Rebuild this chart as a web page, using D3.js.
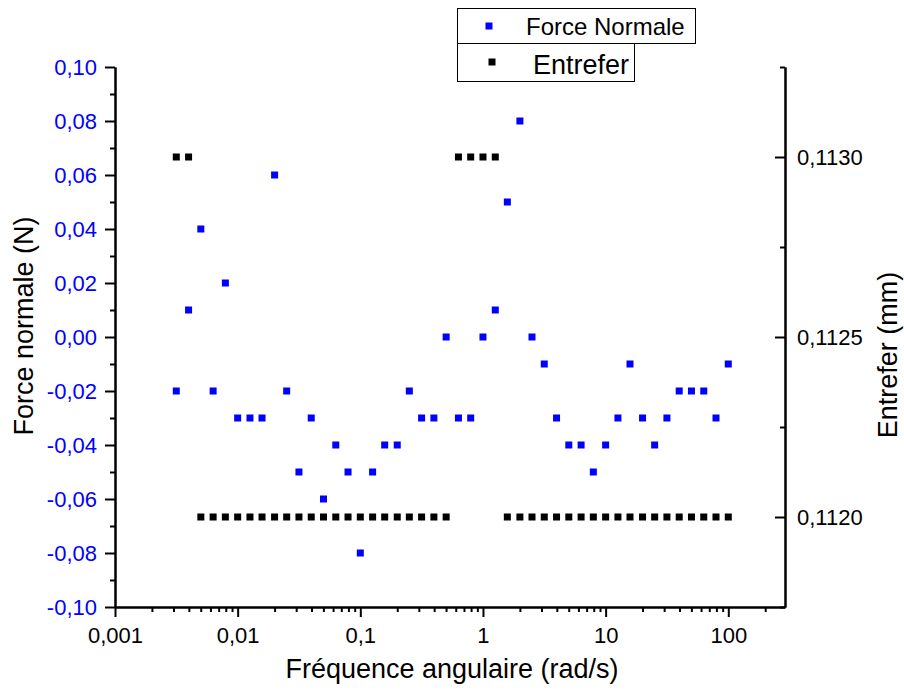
<!DOCTYPE html>
<html>
<head>
<meta charset="utf-8">
<script src="https://cdn.jsdelivr.net/npm/d3@7"></script>
<style>
  body { margin: 0; background: #fff; }
  text { font-family: Arial, "Liberation Sans", sans-serif; }
</style>
</head>
<body>
<div id="chart"></div>
<script>
// angular frequency (rad/s)
const frequence = [
  0.00316, 0.00398, 0.00501, 0.00631, 0.00794,
  0.01, 0.0126, 0.0158, 0.02, 0.0251, 0.0316, 0.0398, 0.0501, 0.0631, 0.0794,
  0.1, 0.126, 0.158, 0.2, 0.251, 0.316, 0.398, 0.501, 0.631, 0.794,
  1, 1.26, 1.58, 2, 2.51, 3.16, 3.98, 5.01, 6.31, 7.94,
  10, 12.6, 15.8, 20, 25.1, 31.6, 39.8, 50.1, 63.1, 79.4, 100
]
// normal force (N)
const forceNormale = [
  -0.02, 0.01, 0.04, -0.02, 0.02,
  -0.03, -0.03, -0.03, 0.06, -0.02, -0.05, -0.03, -0.06, -0.04, -0.05,
  -0.08, -0.05, -0.04, -0.04, -0.02, -0.03, -0.03, 0.00, -0.03, -0.03,
  0.00, 0.01, 0.05, 0.08, 0.00, -0.01, -0.03, -0.04, -0.04, -0.05,
  -0.04, -0.03, -0.01, -0.03, -0.04, -0.03, -0.02, -0.02, -0.02, -0.03, -0.01
]
// gap (mm)
const entrefer = [
  0.1130, 0.1130, 0.1120, 0.1120, 0.1120,
  0.1120, 0.1120, 0.1120, 0.1120, 0.1120, 0.1120, 0.1120, 0.1120, 0.1120, 0.1120,
  0.1120, 0.1120, 0.1120, 0.1120, 0.1120, 0.1120, 0.1120, 0.1120, 0.1130, 0.1130,
  0.1130, 0.1130, 0.1120, 0.1120, 0.1120, 0.1120, 0.1120, 0.1120, 0.1120, 0.1120,
  0.1120, 0.1120, 0.1120, 0.1120, 0.1120, 0.1120, 0.1120, 0.1120, 0.1120, 0.1120, 0.1120
]
const xTicks = [0.001, 0.01, 0.1, 1, 10, 100]
const yLeftTicks = [-0.10, -0.08, -0.06, -0.04, -0.02, 0.00, 0.02, 0.04, 0.06, 0.08, 0.10]
const yRightTicks = [0.1120, 0.1125, 0.1130]
const seriesNames = ["Force Normale", "Entrefer"]

let dimensions = {
  width: 904,
  height: 695,
  margin: { top: 67, bottom: 88, left: 115, right: 119 }
}
dimensions.ctrWidth = dimensions.width - dimensions.margin.left - dimensions.margin.right
dimensions.ctrHeight = dimensions.height - dimensions.margin.top - dimensions.margin.bottom

// french decimals, plain hyphen for the minus sign
const fr = d3.formatLocale({ decimal: ",", thousands: ".", grouping: [3], currency: ["", ""], minus: "-" })

const svg = d3.select('#chart')
  .append("svg")
  .attr("width", dimensions.width)
  .attr("height", dimensions.height)

const ctr = svg.append("g")
  .attr("transform", `translate(${dimensions.margin.left}, ${dimensions.margin.top})`)

const xScale = d3.scaleLog()
  .domain([0.001, 290])
  .range([0, dimensions.ctrWidth])
const yLeft = d3.scaleLinear()
  .domain([-0.10, 0.10])
  .range([dimensions.ctrHeight, 0])
const yRight = d3.scaleLinear()
  .domain([0.11175, 0.11325])
  .range([dimensions.ctrHeight, 0])

function styleAxis(g, color) {
  g.select(".domain").attr("stroke", "#000").attr("stroke-width", 2)
  g.selectAll(".tick line").attr("stroke", "#000").attr("stroke-width", 2)
  g.selectAll(".tick text").attr("fill", color).style("font-size", "22px")
}

// bottom axis: minor then major
const xMinor = xScale.ticks().filter(d => !xTicks.some(t => Math.abs(t - d) / t < 1e-9))
ctr.append("g")
  .attr("transform", `translate(0, ${dimensions.ctrHeight})`)
  .call(d3.axisBottom(xScale).tickValues(xMinor).tickSize(5).tickSizeOuter(0).tickFormat(""))
  .call(g => styleAxis(g, "#000"))
ctr.append("g")
  .attr("transform", `translate(0, ${dimensions.ctrHeight})`)
  .call(d3.axisBottom(xScale).tickValues(xTicks).tickSize(10).tickPadding(10).tickSizeOuter(0)
    .tickFormat(fr.format("~g")))
  .call(g => styleAxis(g, "#000"))

// left axis
const yLeftMinor = d3.range(-0.09, 0.1, 0.02)
ctr.append("g")
  .call(d3.axisLeft(yLeft).tickValues(yLeftMinor).tickSize(5).tickSizeOuter(0).tickFormat(""))
  .call(g => styleAxis(g, "#000"))
ctr.append("g")
  .call(d3.axisLeft(yLeft).tickValues(yLeftTicks).tickSize(10).tickPadding(8).tickSizeOuter(0)
    .tickFormat(fr.format(".2f")))
  .call(g => styleAxis(g, "#0000ff"))

// right axis, ticks pointing inward
const yRightMinor = [0.11175, 0.11225, 0.11275, 0.11325]
ctr.append("g")
  .attr("transform", `translate(${dimensions.ctrWidth}, 0)`)
  .call(d3.axisRight(yRight).tickValues(yRightMinor).tickSize(-5).tickSizeOuter(0).tickFormat(""))
  .call(g => styleAxis(g, "#000"))
ctr.append("g")
  .attr("transform", `translate(${dimensions.ctrWidth}, 0)`)
  .call(d3.axisRight(yRight).tickValues(yRightTicks).tickSize(-10).tickPadding(12).tickSizeOuter(0)
    .tickFormat(fr.format(".4f")))
  .call(g => styleAxis(g, "#000"))

// markers
const sq = 7
ctr.append("g").selectAll("rect")
  .data(frequence)
  .join("rect")
  .attr("x", (d) => xScale(d) - sq / 2)
  .attr("y", (d, i) => yRight(entrefer[i]) - sq / 2)
  .attr("width", sq)
  .attr("height", sq)
  .attr("fill", "#000")

ctr.append("g").selectAll("rect")
  .data(frequence)
  .join("rect")
  .attr("x", (d) => xScale(d) - sq / 2)
  .attr("y", (d, i) => yLeft(forceNormale[i]) - sq / 2)
  .attr("width", sq)
  .attr("height", sq)
  .attr("fill", "#0000ff")

// axis titles
svg.append("text")
  .attr("x", 452).attr("y", 678)
  .attr("text-anchor", "middle")
  .style("font-size", "27px")
  .text("Fréquence angulaire (rad/s)")
svg.append("text")
  .attr("transform", "translate(33, 326) rotate(-90)")
  .attr("text-anchor", "middle")
  .style("font-size", "27px")
  .text("Force normale (N)")
svg.append("text")
  .attr("transform", "translate(897, 355) rotate(-90)")
  .attr("text-anchor", "middle")
  .style("font-size", "27px")
  .text("Entrefer (mm)")

// legend, two stacked boxes
const legend = svg.append("g")
legend.append("rect")
  .attr("x", 457.5).attr("y", 8.5).attr("width", 238).attr("height", 35)
  .attr("fill", "#fff").attr("stroke", "#000")
legend.append("rect")
  .attr("x", 457.5).attr("y", 43.5).attr("width", 177).attr("height", 38)
  .attr("fill", "#fff").attr("stroke", "#000")
legend.append("rect")
  .attr("x", 489 - sq / 2).attr("y", 26 - sq / 2).attr("width", sq).attr("height", sq)
  .attr("fill", "#0000ff")
legend.append("rect")
  .attr("x", 492 - sq / 2).attr("y", 62 - sq / 2).attr("width", sq).attr("height", sq)
  .attr("fill", "#000")
legend.append("text")
  .attr("x", 526).attr("y", 35)
  .style("font-size", "24px")
  .text(seriesNames[0])
legend.append("text")
  .attr("x", 533).attr("y", 74)
  .style("font-size", "27px")
  .text(seriesNames[1])
</script>
</body>
</html>
